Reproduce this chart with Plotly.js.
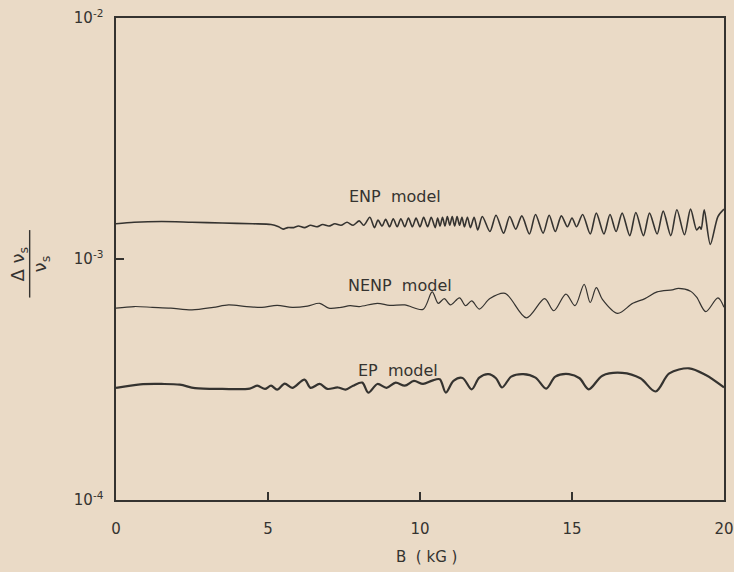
<!DOCTYPE html>
<html>
<head>
<meta charset="utf-8">
<script src="https://cdn.plot.ly/plotly-3.0.1.min.js"></script>
<style>
  html, body { margin: 0; padding: 0; background: #eadac6; }
  #chart { width: 734px; height: 572px; }
</style>
</head>
<body>
<div id="chart"></div>
<script>
// Magnetic field B (kG) and relative sound-velocity change
const enpB = [0,0.6,1.5,2.5,3.5,4.5,5.1,5.35,5.5,5.65,
  5.85,6.0,6.2,6.4,6.6,6.8,7.0,7.2,7.4,7.6,7.8,8.0,8.15,8.35,8.5,
  8.62,8.75,8.87,9.0,9.12,9.25,9.37,9.5,9.62,9.75,9.87,10.0,10.12,10.25,10.37,10.5,
  10.58,10.66,10.74,10.82,10.9,10.98,11.06,11.14,11.22,11.3,11.38,11.46,11.56,11.66,11.78,11.9,
  12.05,12.3,12.5,12.75,12.95,13.15,13.35,13.6,13.8,14.05,14.25,14.45,14.65,14.85,15.0,15.15,
  15.35,15.6,15.8,16.05,16.25,16.45,16.65,16.9,17.1,17.35,17.55,17.8,18.0,18.25,18.45,18.7,
  18.9,19.1,19.2,19.25,19.35,19.55,19.8,20.0];
const enpV = [14.0e-4,14.2e-4,14.3e-4,14.2e-4,14.1e-4,14.0e-4,13.9e-4,13.6e-4,13.3e-4,13.5e-4,
  13.5e-4,13.7e-4,13.5e-4,13.8e-4,13.6e-4,13.9e-4,13.7e-4,14.0e-4,13.8e-4,14.2e-4,13.8e-4,14.4e-4,13.8e-4,14.9e-4,13.5e-4,
  14.5e-4,13.7e-4,14.6e-4,13.6e-4,14.7e-4,13.6e-4,14.7e-4,13.6e-4,14.8e-4,13.6e-4,14.8e-4,13.6e-4,14.9e-4,13.6e-4,14.9e-4,13.5e-4,
  14.8e-4,13.7e-4,14.9e-4,13.7e-4,15.0e-4,13.8e-4,15.0e-4,13.7e-4,15.0e-4,13.8e-4,14.9e-4,13.6e-4,14.9e-4,13.5e-4,14.9e-4,13.2e-4,
  15.0e-4,13.0e-4,15.2e-4,12.8e-4,15.0e-4,13.3e-4,15.1e-4,12.7e-4,15.3e-4,12.8e-4,15.2e-4,13.0e-4,15.1e-4,13.6e-4,14.8e-4,13.6e-4,
  15.3e-4,12.7e-4,15.5e-4,12.7e-4,15.3e-4,13.0e-4,15.5e-4,12.5e-4,15.6e-4,12.5e-4,15.5e-4,12.7e-4,15.8e-4,12.5e-4,16.0e-4,12.6e-4,
  16.1e-4,13.2e-4,13.6e-4,13.3e-4,16.0e-4,11.5e-4,15.0e-4,16.1e-4];

const nenpB = [0,0.6,1.2,1.8,2.5,3.2,3.7,4.3,4.8,5.3,5.8,6.3,6.7,7.0,7.4,7.7,8.0,8.6,9.0,9.5,10.1,
  10.4,10.6,10.8,11.0,11.3,11.5,11.7,11.95,12.3,12.8,13.5,14.1,14.4,14.8,15.1,15.4,15.6,15.8,16.0,
  16.5,17.0,17.4,17.8,18.3,18.5,18.9,19.1,19.4,19.8,20.0];
const nenpV = [6.25e-4,6.35e-4,6.3e-4,6.25e-4,6.15e-4,6.3e-4,6.45e-4,6.35e-4,6.3e-4,6.42e-4,6.3e-4,6.38e-4,6.55e-4,6.25e-4,6.3e-4,6.4e-4,6.35e-4,6.55e-4,6.42e-4,6.45e-4,6.18e-4,
  7.3e-4,6.55e-4,6.85e-4,6.45e-4,6.9e-4,6.4e-4,6.7e-4,6.2e-4,6.85e-4,7.2e-4,5.7e-4,6.85e-4,6.1e-4,7.15e-4,6.4e-4,7.85e-4,6.6e-4,7.6e-4,6.8e-4,
  5.95e-4,6.55e-4,6.85e-4,7.3e-4,7.45e-4,7.55e-4,7.35e-4,6.95e-4,6.05e-4,6.9e-4,6.3e-4];

const epB = [0,0.8,1.5,2.1,2.6,3.5,4.4,4.65,4.9,5.1,5.3,5.55,5.8,6.2,6.4,6.7,6.95,7.3,7.55,7.8,8.1,8.3,
  8.6,8.9,9.2,9.5,9.8,10.1,10.4,10.65,10.85,11.1,11.4,11.7,
  11.95,12.25,12.5,12.7,13.0,13.4,13.8,14.15,14.45,14.9,15.25,15.55,16.0,16.65,17.25,17.75,18.2,18.85,19.4,20.0];
const epV = [2.92e-4,3.02e-4,3.03e-4,3.01e-4,2.91e-4,2.89e-4,2.90e-4,2.98e-4,2.89e-4,2.98e-4,2.87e-4,3.04e-4,2.92e-4,3.16e-4,2.92e-4,3.03e-4,2.89e-4,2.93e-4,2.87e-4,2.98e-4,3.07e-4,2.79e-4,
  3.03e-4,2.92e-4,3.07e-4,2.98e-4,3.12e-4,3.03e-4,3.13e-4,3.17e-4,2.79e-4,3.12e-4,3.21e-4,2.88e-4,
  3.22e-4,3.33e-4,3.20e-4,2.93e-4,3.25e-4,3.33e-4,3.22e-4,2.90e-4,3.25e-4,3.33e-4,3.20e-4,2.88e-4,3.28e-4,3.37e-4,3.20e-4,2.82e-4,3.35e-4,3.52e-4,3.30e-4,2.93e-4];

const xTickVals = [0, 5, 10, 15, 20];
const xTickText = ['0', '5', '10', '15', '20'];
const yTickVals = [1e-4, 1e-3, 1e-2];
const yTickText = ['10<sup>-4</sup>', '10<sup>-3</sup>', '10<sup>-2</sup>'];
const modelLabels = ['ENP\u00a0\u00a0model', 'NENP\u00a0\u00a0model', 'EP\u00a0\u00a0model'];
const labelB = [7.6, 7.55, 7.9];
const labelV = [1.82e-3, 7.75e-4, 3.46e-4];

const ink = '#353330';
const bg = '#eadac6';
const font = 'DejaVu Sans, Liberation Sans, sans-serif';

const traces = [
  {x: enpB, y: enpV, mode: 'lines', line: {color: ink, width: 1.6, shape: 'spline', smoothing: 0.8}, hoverinfo: 'skip'},
  {x: nenpB, y: nenpV, mode: 'lines', line: {color: ink, width: 1.2, shape: 'spline', smoothing: 0.9}, hoverinfo: 'skip'},
  {x: epB, y: epV, mode: 'lines', line: {color: ink, width: 2.2, shape: 'spline', smoothing: 0.9}, hoverinfo: 'skip'}
];

const layout = {
  width: 734, height: 572,
  margin: {l: 116, r: 10, t: 18, b: 72},
  paper_bgcolor: bg, plot_bgcolor: bg,
  showlegend: false,
  font: {family: font, size: 15, color: ink},
  xaxis: {
    range: [0, 20], tickvals: xTickVals, ticktext: xTickText,
    ticks: 'inside', ticklen: 8, tickwidth: 1.3, tickcolor: ink,
    showline: true, mirror: true, linecolor: ink, linewidth: 1.6,
    showgrid: false, zeroline: false, ticklabelstandoff: 14,
    ticklabeloverflow: 'allow',
    tickfont: {family: font, size: 15, color: ink}
  },
  yaxis: {
    type: 'log', range: [-4, -2], tickvals: yTickVals, ticktext: yTickText,
    ticks: 'inside', ticklen: 8, tickwidth: 1.3, tickcolor: ink,
    showline: true, mirror: true, linecolor: ink, linewidth: 1.6,
    showgrid: false, zeroline: false, ticklabelstandoff: 8,
    ticklabeloverflow: 'allow',
    tickfont: {family: font, size: 15, color: ink}
  }
};

// model labels
layout.annotations = modelLabels.map((t, i) => ({
  x: labelB[i], y: Math.log10(labelV[i]), xref: 'x', yref: 'y', text: t,
  showarrow: false, xanchor: 'left', yanchor: 'middle',
  font: {family: font, size: 16, color: ink}
}));
// x-axis title
layout.annotations.push({
  x: 0.51, y: -0.095, xref: 'paper', yref: 'paper', text: 'B\u00a0\u00a0(\u00a0kG\u00a0)',
  showarrow: false, xanchor: 'center', yanchor: 'top', font: {family: font, size: 15, color: ink}
});
// y-axis title drawn as a rotated fraction  Δν_s / ν_s
layout.annotations.push({
  x: -0.16, y: 0.49, xref: 'paper', yref: 'paper', text: 'Δ ν<sub>s</sub>', textangle: -90,
  showarrow: false, xanchor: 'center', yanchor: 'middle', font: {family: font, size: 18, color: ink}
});
layout.annotations.push({
  x: -0.124, y: 0.49, xref: 'paper', yref: 'paper', text: 'ν<sub>s</sub>', textangle: -90,
  showarrow: false, xanchor: 'center', yanchor: 'middle', font: {family: font, size: 18, color: ink}
});
layout.shapes = [{
  type: 'line', xref: 'paper', yref: 'paper', x0: -0.142, x1: -0.142, y0: 0.42, y1: 0.56,
  line: {color: ink, width: 1.4}
}];

Plotly.newPlot('chart', traces, layout, {displayModeBar: false, staticPlot: true});
</script>
</body>
</html>
